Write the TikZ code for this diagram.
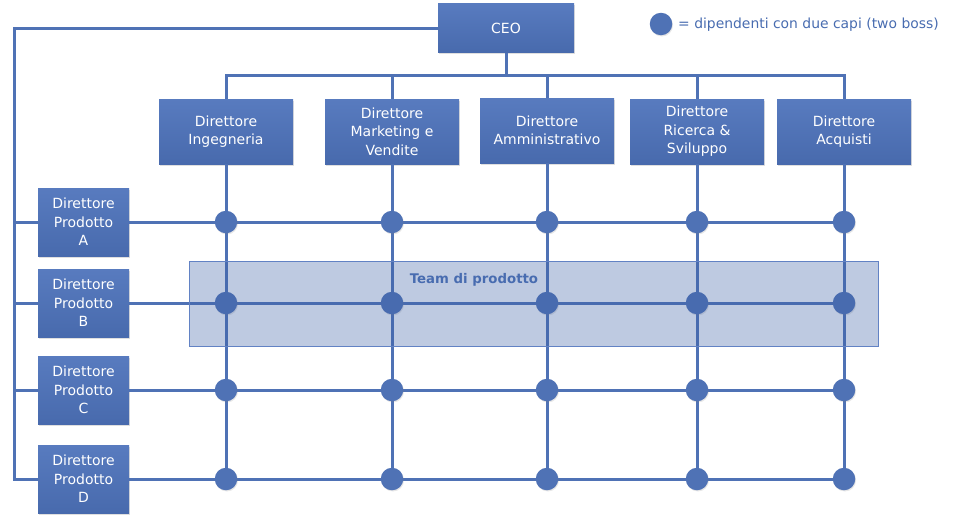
\documentclass[tikz,border=0pt]{standalone}
\usepackage{fontspec}
\setmainfont{DejaVu Sans}
\usetikzlibrary{shadows}
\definecolor{mainblue}{RGB}{79,114,181}
\definecolor{boxtop}{RGB}{88,123,191}
\definecolor{boxbot}{RGB}{72,106,173}
\definecolor{bandfill}{RGB}{60,95,165}
\definecolor{bandline}{RGB}{98,130,196}
\definecolor{txtblue}{RGB}{72,108,176}
\begin{document}
\begin{tikzpicture}[x=1pt,y=-1pt,
  box/.style={rectangle, top color=boxtop, bottom color=boxbot, draw=none,
    text=white, align=center, font=\fontsize{14}{18.4}\selectfont, inner sep=0pt,
    drop shadow={opacity=0.25,shadow xshift=1.2pt,shadow yshift=-1.5pt}},
  topbox/.style={box, minimum width=134pt, minimum height=65pt},
  prodbox/.style={box, minimum width=91pt, minimum height=68pt},
  ceobox/.style={box, minimum width=136pt, minimum height=49pt},
  wire/.style={draw=mainblue, line width=3pt},
  dot/.style={circle, fill=mainblue, minimum size=22.5pt, inner sep=0pt,
    drop shadow={opacity=0.2,shadow xshift=0.8pt,shadow yshift=-1.2pt}},
  band/.style={draw=bandline, line width=0.8pt, fill=bandfill, fill opacity=0.335}
]
\useasboundingbox (0,0) rectangle (955,517);

% nodes
\node[ceobox] (ceo) at (506,28) {CEO};
\node[topbox] (d1) at (226,131.5) {Direttore\\Ingegneria};
\node[topbox] (d2) at (392,131.5) {Direttore\\Marketing e\\Vendite};
\node[topbox] (d3) at (547,130.5) {Direttore\\Amministrativo};
\node[topbox] (d4) at (697,131.5) {Direttore\\Ricerca \&\\Sviluppo};
\node[topbox] (d5) at (844,131.5) {Direttore\\Acquisti};

\node[prodbox] (pA) at (83.5,222) {Direttore\\Prodotto\\A};
\node[prodbox] (pB) at (83.5,303) {Direttore\\Prodotto\\B};
\node[prodbox] (pC) at (83.5,390) {Direttore\\Prodotto\\C};
\node[prodbox] (pD) at (83.5,479) {Direttore\\Prodotto\\D};

\coordinate (L) at (14,28);
\coordinate (bus) at (506,75);

% connectors
\draw[wire] (ceo.south) -- (bus);
\draw[wire] (d1.north) |- (bus) -| (d5.north);
\foreach \d in {d2,d3,d4}{\draw[wire] (\d.north) -- (\d.north |- bus);}
\draw[wire] (ceo.west) -- (L) |- (pD.west);
\foreach \p in {pA,pB,pC}{\draw[wire] (L |- \p.west) -- (\p.west);}
\foreach \p in {pA,pB,pC,pD}{\draw[wire] (\p.east) -- (\p.east -| d5.south);}
\foreach \d in {d1,d2,d3,d4,d5}{\draw[wire] (\d.south) -- (\d.south |- pD.east);}

% dots
\foreach \d in {d1,d2,d3,d4,d5}{
  \foreach \p in {pA,pB,pC,pD}{
    \node[dot] (x-\d-\p) at (\d.south |- \p.east) {};
  }
}

% team band
\path[band] (189,261) rectangle (878,346);
\node[font=\bfseries\fontsize{13.3}{15}\selectfont, text=txtblue] (team) at (474,280) {Team di prodotto};

% legend
\node[dot] (legdot) at (661,24) {};
\node[anchor=west, inner sep=0pt, text=txtblue, font=\fontsize{13.9}{16}\selectfont] (legtxt) at (678,25) {= dipendenti con due capi (two boss)};
\end{tikzpicture}
\end{document}
